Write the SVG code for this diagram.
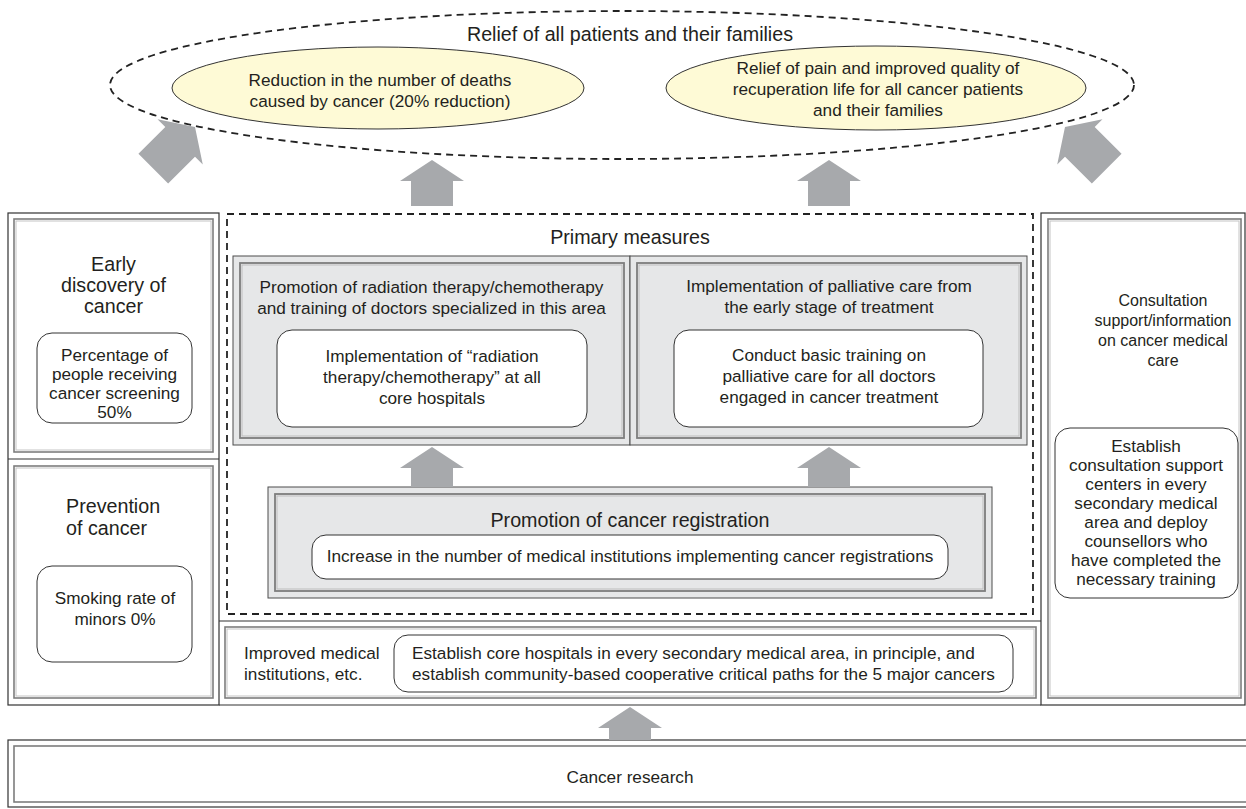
<svg xmlns="http://www.w3.org/2000/svg" width="1246" height="809" viewBox="0 0 1246 809">
<style>
text{font-family:"Liberation Sans",Arial,sans-serif;fill:#231f20;font-size:17.2px}
.t{font-size:19.7px}
.s{font-size:16px}
.m{text-anchor:middle}
.frame{fill:none;stroke:#333;stroke-width:1.2}
.d1{fill:none;stroke:#7d7d7d;stroke-width:1.6}
.d2{fill:none;stroke:#c4c4c4;stroke-width:1}
.rb{fill:#fff;stroke:#333;stroke-width:1}
.gb{fill:#e6e7e8;stroke:#4d4d4d;stroke-width:1}
.gi{fill:none;stroke:#7d7d7d;stroke-width:1.8}
.gi2{fill:none;stroke:#bdbdbd;stroke-width:1}
.dash{fill:none;stroke:#222;stroke-width:1.8;stroke-dasharray:7 5}
.yel{fill:#fefad6;stroke:#333;stroke-width:1}
.arr{fill:#a7a9ac}
</style>
<rect width="1246" height="809" fill="#fff"/>

<g id="goal">
<ellipse class="dash" cx="622" cy="85" rx="512" ry="74"/>
<text class="t m" x="630" y="41">Relief of all patients and their families</text>
</g>
<g id="goal-deaths">
<ellipse class="yel" cx="378" cy="88" rx="206" ry="41"/>
<text class="m" x="380" y="86">Reduction in the number of deaths</text>
<text class="m" x="380" y="107">caused by cancer (20% reduction)</text>
</g>
<g id="goal-pain">
<ellipse class="yel" cx="876" cy="88" rx="210" ry="42"/>
<text class="m" x="878" y="74">Relief of pain and improved quality of</text>
<text class="m" x="878" y="95">recuperation life for all cancer patients</text>
<text class="m" x="878" y="116">and their families</text>
</g>

<g id="frame">
<rect class="frame" x="8" y="213" width="211" height="492"/>
<rect class="frame" x="1041" y="213" width="204" height="492"/>
<line class="frame" x1="8" y1="459" x2="219" y2="459"/>
<line class="frame" x1="219" y1="621" x2="1041" y2="621"/>
<line class="frame" x1="219" y1="705" x2="1041" y2="705"/>
</g>

<g id="early">
<rect class="d1" x="14" y="219" width="199" height="233"/>
<rect class="d2" x="16" y="221" width="195" height="229"/>
<text class="t m" x="113.5" y="271">Early</text>
<text class="t m" x="113.5" y="292">discovery of</text>
<text class="t m" x="113.5" y="313">cancer</text>
<rect class="rb" x="37" y="333" width="155" height="90" rx="15"/>
<text class="m" x="114.5" y="361">Percentage of</text>
<text class="m" x="114.5" y="380">people receiving</text>
<text class="m" x="114.5" y="399">cancer screening</text>
<text class="m" x="114.5" y="418">50%</text>
</g>

<g id="prevention">
<rect class="d1" x="14" y="466" width="199" height="232"/>
<rect class="d2" x="16" y="468" width="195" height="228"/>
<text class="t" x="66" y="513">Prevention</text>
<text class="t" x="66" y="535">of cancer</text>
<rect class="rb" x="37" y="566" width="155" height="96" rx="15"/>
<text class="m" x="115" y="604">Smoking rate of</text>
<text class="m" x="115" y="625">minors 0%</text>
</g>

<g id="primary">
<rect class="dash" x="227" y="214" width="806" height="400"/>
<text class="t m" x="630" y="244">Primary measures</text>
</g>

<g id="radiation">
<rect class="gb" x="233" y="256" width="397" height="189"/>
<rect class="gi" x="240" y="263" width="384" height="175"/>
<rect class="gi2" x="242" y="265" width="380" height="171"/>
<text class="m" x="431.5" y="293">Promotion of radiation therapy/chemotherapy</text>
<text class="m" x="431.5" y="314">and training of doctors specialized in this area</text>
<rect class="rb" x="277" y="330" width="310" height="97" rx="15"/>
<text class="m" x="432" y="362">Implementation of “radiation</text>
<text class="m" x="432" y="383">therapy/chemotherapy” at all</text>
<text class="m" x="432" y="404">core hospitals</text>
</g>

<g id="palliative">
<rect class="gb" x="630" y="256" width="397" height="189"/>
<rect class="gi" x="637" y="263" width="384" height="175"/>
<rect class="gi2" x="639" y="265" width="380" height="171"/>
<text class="m" x="829" y="292">Implementation of palliative care from</text>
<text class="m" x="829" y="313">the early stage of treatment</text>
<rect class="rb" x="674" y="330" width="309" height="97" rx="15"/>
<text class="m" x="829" y="361">Conduct basic training on</text>
<text class="m" x="829" y="382">palliative care for all doctors</text>
<text class="m" x="829" y="403">engaged in cancer treatment</text>
</g>

<g id="registration">
<rect class="gb" x="268" y="487" width="724" height="111"/>
<rect class="gi" x="275" y="494" width="710" height="97"/>
<rect class="gi2" x="277" y="496" width="706" height="93"/>
<text class="t m" x="630" y="527">Promotion of cancer registration</text>
<rect class="rb" x="312" y="535" width="636" height="44" rx="14"/>
<text class="m" x="630" y="562">Increase in the number of medical institutions implementing cancer registrations</text>
</g>

<g id="institutions">
<rect class="d1" x="225" y="627" width="811" height="71"/>
<rect class="d2" x="227" y="629" width="807" height="67"/>
<text x="244" y="659">Improved medical</text>
<text x="244" y="680">institutions, etc.</text>
<rect class="rb" x="394" y="635" width="619" height="57" rx="14"/>
<text x="412" y="659">Establish core hospitals in every secondary medical area, in principle, and</text>
<text x="412" y="680">establish community-based cooperative critical paths for the 5 major cancers</text>
</g>

<g id="consultation">
<rect class="d1" x="1048" y="219" width="193" height="479"/>
<rect class="d2" x="1050" y="221" width="189" height="475"/>
<text class="s m" x="1163" y="306">Consultation</text>
<text class="s m" x="1163" y="326">support/information</text>
<text class="s m" x="1163" y="346">on cancer medical</text>
<text class="s m" x="1163" y="366">care</text>
<rect class="rb" x="1055" y="428" width="183" height="170" rx="15"/>
<text class="m" x="1146" y="452">Establish</text>
<text class="m" x="1146" y="471">consultation support</text>
<text class="m" x="1146" y="490">centers in every</text>
<text class="m" x="1146" y="509">secondary medical</text>
<text class="m" x="1146" y="528">area and deploy</text>
<text class="m" x="1146" y="547">counsellors who</text>
<text class="m" x="1146" y="566">have completed the</text>
<text class="m" x="1146" y="585">necessary training</text>
</g>

<g id="research">
<rect class="frame" x="8" y="740" width="1244" height="67"/>
<rect class="d1" x="14" y="746" width="1240" height="56"/>
<text class="m" x="630" y="783">Cancer research</text>
</g>

<g id="connectors">
<polygon class="arr" points="0,0 32,21 21,21 21,59 -21,59 -21,21 -32,21" transform="translate(195,127) rotate(45)"/>
<polygon class="arr" points="0,0 32,21 21,21 21,59 -21,59 -21,21 -32,21" transform="translate(1065,127) rotate(-45)"/>
<polygon class="arr" points="432,160 464,181 453,181 453,206 411,206 411,181 400,181"/>
<polygon class="arr" points="829,160 861,181 850,181 850,206 808,206 808,181 797,181"/>
<polygon class="arr" points="432,447 464,468 453,468 453,487 411,487 411,468 400,468"/>
<polygon class="arr" points="829,447 861,468 850,468 850,487 808,487 808,468 797,468"/>
<polygon class="arr" points="630,707 662,728 651,728 651,740 609,740 609,728 598,728"/>
</g>
</svg>
